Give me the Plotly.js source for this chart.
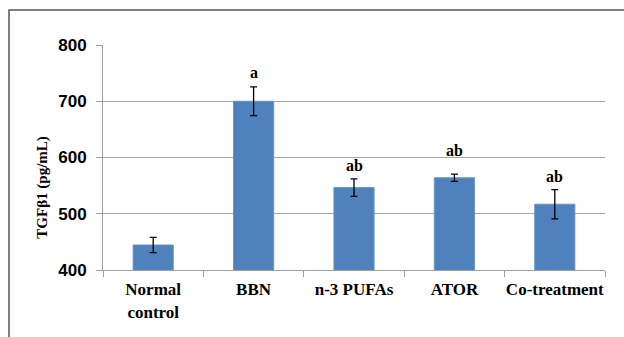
<!DOCTYPE html>
<html>
<head>
<meta charset="utf-8">
<script src="https://cdn.plot.ly/plotly-3.0.1.min.js"></script>
<style>html,body{margin:0;padding:0;background:#fff;}#chart{width:624px;height:337px;}</style>
</head>
<body>
<div id="chart"></div>
<script>
var categories = ["Normal<br>control", "BBN", "n-3 PUFAs", "ATOR", "Co-treatment"];
var means = [444.5, 700, 546.5, 564, 517];
var errors = [13.5, 25.5, 15.5, 6.5, 26];
var sigLabels = ["", "a", "ab", "ab", "ab"];
var sigLabelY = [null, 751, 585, 613, 566];
var yTickVals = [400, 500, 600, 700, 800];

var annotations = [];
for (var i = 0; i < categories.length; i++) {
  if (sigLabels[i]) {
    annotations.push({
      x: categories[i], y: sigLabelY[i], xref: 'x', yref: 'y',
      text: sigLabels[i], showarrow: false, yanchor: 'middle',
      font: {family: 'Liberation Serif, Times New Roman, serif', size: 16, color: '#000', weight: 'bold'}
    });
  }
}
annotations.push({
  x: -0.121, y: 0.367, xref: 'paper', yref: 'paper',
  text: 'TGFβ1 (pg/mL)', showarrow: false, textangle: -90,
  xanchor: 'center', yanchor: 'middle',
  font: {family: 'Liberation Serif, Times New Roman, serif', size: 15, color: '#000', weight: 'bold'}
});

var trace = {
  type: 'bar',
  x: categories,
  y: means,
  base: 0,
  marker: {color: '#4F81BD', line: {color: '#6a96cc', width: 1}},
  error_y: {type: 'data', array: errors, visible: true, color: '#000', thickness: 1.3, width: 3.5},
  hoverinfo: 'none'
};

var layout = {
  width: 624, height: 337,
  margin: {l: 103, r: 19, t: 45, b: 67},
  paper_bgcolor: '#fff', plot_bgcolor: '#fff',
  showlegend: false,
  bargap: 0.6,
  xaxis: {
    type: 'category',
    tickson: 'boundaries',
    tickangle: 0,
    ticks: 'outside', ticklen: 6, tickcolor: '#a0a0a0', tickwidth: 1,
    showline: true, linecolor: '#a0a0a0', linewidth: 1,
    showgrid: false,
    ticklabelstandoff: 4,
    tickfont: {family: 'Liberation Serif, Times New Roman, serif', size: 17, color: '#000', weight: 'bold'},
    fixedrange: true
  },
  yaxis: {
    range: [400, 800],
    tickvals: yTickVals,
    ticktext: yTickVals.map(String),
    ticks: 'outside', ticklen: 6, tickcolor: '#a0a0a0', tickwidth: 1,
    showline: true, linecolor: '#a0a0a0', linewidth: 1,
    showgrid: true, gridcolor: '#a6a6a6', gridwidth: 1,
    zeroline: false,
    ticklabelstandoff: 6,
    tickfont: {family: 'Liberation Sans, Arial, sans-serif', size: 17, color: '#000', weight: 'bold'},
    fixedrange: true
  },
  annotations: annotations,
  shapes: [{
    type: 'rect', xref: 'paper', yref: 'paper',
    x0: (9 - 103) / 502, x1: 1.5,
    y0: -1, y1: (270 - 10) / 225,
    line: {color: '#555', width: 1.5}, fillcolor: 'rgba(0,0,0,0)', layer: 'below'
  }]
};

Plotly.newPlot('chart', [trace], layout, {displayModeBar: false, staticPlot: true});
</script>
</body>
</html>
